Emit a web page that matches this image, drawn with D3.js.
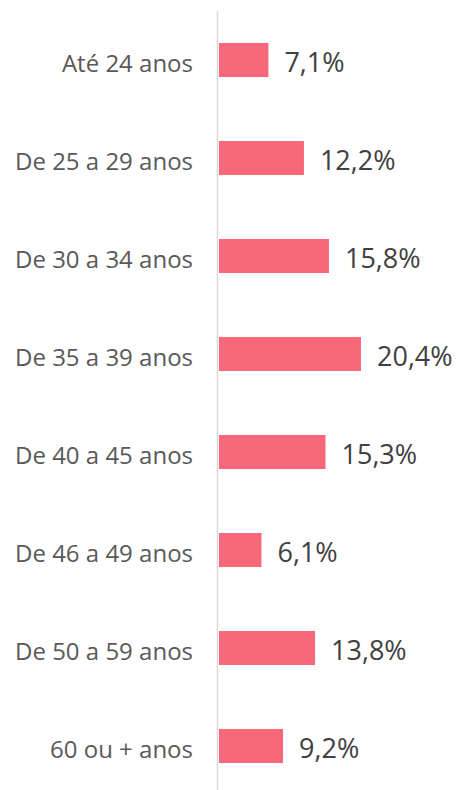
<!DOCTYPE html>
<html>
<head>
<meta charset="utf-8">
<script src="https://cdn.jsdelivr.net/npm/d3@7"></script>
<style>
  body { margin: 0; background: #fff; }
  svg { display: block; }
</style>
</head>
<body>
<svg id="chart" width="457" height="790"></svg>
<script>
// Chart data
const categories = ["Até 24 anos", "De 25 a 29 anos", "De 30 a 34 anos", "De 35 a 39 anos",
    "De 40 a 45 anos", "De 46 a 49 anos", "De 50 a 59 anos", "60 ou + anos"];
const values = [7.1, 12.2, 15.8, 20.4, 15.3, 6.1, 13.8, 9.2];

const svg = d3.select("#chart"),
    width = +svg.attr("width"),
    height = +svg.attr("height");

const x0 = 219;
const x = d3.scaleLinear()
    .domain([0, 20.4])
    .range([x0, 361]);

const y = d3.scaleBand()
    .domain(categories)
    .range([11, 795])
    .paddingInner(0.653)
    .paddingOuter(0.3265);

const fmt = d => d.toFixed(1).replace(".", ",") + "%";

// Bars
svg.append("g")
    .selectAll("rect")
    .data(values)
    .enter()
    .append("rect")
    .attr("x", x(0))
    .attr("y", (d, i) => y(categories[i]))
    .attr("width", d => x(d) - x(0))
    .attr("height", y.bandwidth())
    .attr("fill", "#f7687b");

// Vertical axis line
svg.append("line")
    .attr("x1", 217.5).attr("x2", 217.5)
    .attr("y1", 11).attr("y2", height)
    .attr("stroke", "#d9d9d9")
    .attr("stroke-width", 1.5);

// Category labels
svg.append("g")
    .selectAll("text")
    .data(categories)
    .enter()
    .append("text")
    .attr("x", 193)
    .attr("y", d => y(d) + y.bandwidth() / 2 + 12)
    .attr("text-anchor", "end")
    .style("font-family", "'Open Sans', 'Noto Sans', sans-serif")
    .style("font-size", "24px")
    .style("fill", "#595959")
    .text(d => d);

// Value labels
svg.append("g")
    .selectAll("text")
    .data(values)
    .enter()
    .append("text")
    .attr("x", d => x(d) + 16)
    .attr("y", (d, i) => y(categories[i]) + y.bandwidth() / 2 + 12)
    .style("font-family", "'Open Sans', 'Noto Sans', sans-serif")
    .style("font-size", "27px")
    .style("fill", "#404040")
    .text(fmt);
</script>
</body>
</html>
